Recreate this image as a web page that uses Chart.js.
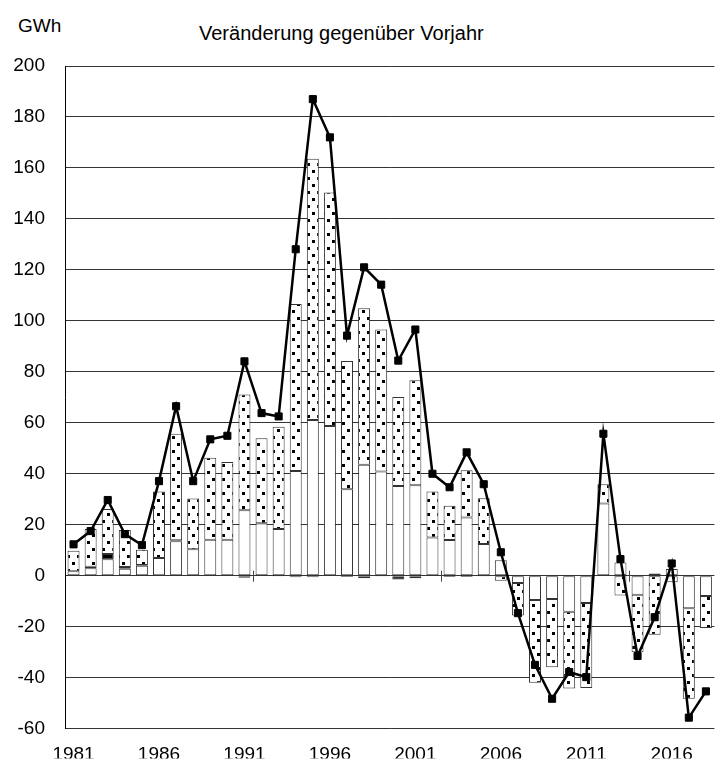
<!DOCTYPE html>
<html lang="de">
<head>
<meta charset="utf-8">
<title>Veränderung gegenüber Vorjahr</title>
<script src="https://cdn.jsdelivr.net/npm/chart.js@4.4.0/dist/chart.umd.min.js"></script>
<style>
    html, body { margin: 0; padding: 0; background: #fff; overflow: hidden; }
    body { position: relative; width: 720px; height: 760px; font-family: "Liberation Sans", Arial, sans-serif; }
    .text { position: absolute; font-size: 19px; line-height: 19px; color: #000; white-space: nowrap; }
    #einheit { left: 18px; top: 16px; }
    #titel { left: 199px; top: 23px; font-size: 20px; line-height: 20px; }
    #diagramm { position: absolute; left: 0; top: 0; }
</style>
</head>
<body>
<div class="text" id="einheit">GWh</div>
<div class="text" id="titel">Veränderung gegenüber Vorjahr</div>
<canvas id="diagramm" width="721" height="760"></canvas>

<script>
    // Jahre 1981 bis 2018
    const jahre = [
        '1981', '1982', '1983', '1984', '1985', '1986', '1987', '1988', '1989', '1990',
        '1991', '1992', '1993', '1994', '1995', '1996', '1997', '1998', '1999', '2000',
        '2001', '2002', '2003', '2004', '2005', '2006', '2007', '2008', '2009', '2010',
        '2011', '2012', '2013', '2014', '2015', '2016', '2017', '2018'
    ];

    // weisser Balkenteil (GWh)
    const anteilWeiss = [
        1.7, 2.9, 6.5, 2.7, 3.9, 6.9, 13.5, 10.4, 14.1, 14.1,
        25.7, 20.6, 18.3, 41.1, 61.1, 58.7, 33.9, 43.5, 40.9, 35.2,
        35.5, 15.0, 14.0, 22.8, 12.4, 6.1, -2.9, -9.5, -9.1, -14.1,
        -10.7, 28.3, 5.2, -7.5, 0.9, 2.6, -12.8, -8.0
    ];

    // schwarzer Balkenteil (GWh)
    const anteilSchwarz = [
        0, 0.6, 2.0, 0.7, 0.3, 0, 0.4, 0, 0, 0,
        -0.8, 0, -0.3, -0.6, -0.6, 0, -0.5, -1.0, -0.3, -1.5,
        -1.0, 0, -0.5, -0.5, -0.3, 0, 0, 0, 0, 0,
        0, 0, 0, 0, 0, 0, 0, 0
    ];

    // gepunkteter Balkenteil (GWh)
    const anteilPunkte = [
        8.1, 14.8, 17.7, 14.5, 6.0, 26.1, 41.8, 19.9, 32.2, 30.5,
        45.4, 33.3, 40.1, 65.5, 102.5, 91.7, 50.3, 61.4, 55.7, 34.9,
        41.2, 18.0, 13.4, 18.6, 18.0, -2.0, -12.7, -32.5, -26.8, -30.2,
        -33.4, 7.6, -7.8, -22.5, -23.2, -2.6, -35.5, -12.5
    ];

    // Gesamtveränderung (Linie)
    const gesamt = [
        12.3, 17.5, 29.7, 16.3, 12.0, 37.1, 66.5, 37.1, 53.5, 54.9,
        84.1, 63.8, 62.5, 128.1, 187.0, 172.0, 94.2, 121.0, 114.2, 84.4,
        96.6, 40.0, 34.7, 48.4, 35.9, 9.2, -14.7, -35.0, -48.3, -37.8,
        -39.8, 55.7, 6.5, -31.5, -16.3, 4.8, -55.7, -45.4
    ];

    // Skala der y-Achse
    const yMin = -60;
    const yMax = 200;
    const ySchritt = 20;

    document.addEventListener('DOMContentLoaded', function() {
        const canvas = document.getElementById('diagramm');
        const ctx = canvas.getContext('2d');

        // Punktraster fuer die gepunkteten Balken
        const kachel = document.createElement('canvas');
        kachel.width = 10;
        kachel.height = 14;
        const k = kachel.getContext('2d');
        k.fillStyle = '#fff';
        k.fillRect(0, 0, 10, 14);
        k.fillStyle = '#000';
        k.fillRect(2, 2, 3, 3);
        k.fillRect(7, 9, 3, 3);
        const punktMuster = ctx.createPattern(kachel, 'repeat');

        const schrift = { family: '"Liberation Sans", Arial, sans-serif', size: 19 };

        const balken = {
            type: 'bar',
            stack: 'teile',
            borderColor: '#333',
            borderWidth: 1,
            borderSkipped: false,
            barPercentage: 0.7,
            categoryPercentage: 1,
            order: 1
        };

        // kleine Teilstriche der Rubrikenachse auf der Nulllinie
        const nullStriche = {
            id: 'nullStriche',
            afterDatasetsDraw: function(chart) {
                const x = chart.scales.x;
                const y0 = chart.scales.y.getPixelForValue(0);
                const c = chart.ctx;
                c.save();
                c.strokeStyle = '#444';
                c.lineWidth = 1;
                [10, 21, 32].forEach(i => {
                    const px = Math.round((x.getPixelForValue(i) + x.getPixelForValue(i + 1)) / 2) + 0.5;
                    c.beginPath();
                    c.moveTo(px, y0 - 5);
                    c.lineTo(px, y0 + 6);
                    c.stroke();
                });
                c.restore();
            }
        };

        new Chart(ctx, {
            data: {
                labels: jahre,
                datasets: [
                    {
                        type: 'line',
                        stack: 'summe',
                        data: gesamt,
                        borderColor: '#000',
                        borderWidth: 2.5,
                        tension: 0,
                        pointStyle: 'rect',
                        pointRadius: 5,
                        pointBorderWidth: 1,
                        pointBackgroundColor: '#000',
                        pointBorderColor: '#000',
                        order: 0
                    },
                    Object.assign({ data: anteilWeiss, backgroundColor: '#fff' }, balken),
                    Object.assign({ data: anteilSchwarz, backgroundColor: '#000', borderColor: '#000' }, balken),
                    Object.assign({ data: anteilPunkte, backgroundColor: punktMuster }, balken)
                ]
            },
            options: {
                responsive: false,
                animation: false,
                layout: { padding: { top: 66, left: 0, right: 0, bottom: 0 } },
                plugins: {
                    legend: { display: false },
                    tooltip: { enabled: false }
                },
                scales: {
                    x: {
                        stacked: true,
                        grid: { display: false, drawTicks: false },
                        border: { display: false },
                        ticks: {
                            autoSkip: false,
                            maxRotation: 0,
                            padding: 15,
                            color: '#000',
                            font: schrift,
                            callback: function(value, index) {
                                return index % 5 === 0 ? jahre[index] : '';
                            }
                        },
                        afterFit: function(scale) { scale.height = 30; }
                    },
                    y: {
                        stacked: true,
                        min: yMin,
                        max: yMax,
                        grid: { color: '#333', drawTicks: false },
                        border: { display: true, color: '#000' },
                        ticks: {
                            stepSize: ySchritt,
                            padding: 20,
                            color: '#000',
                            font: schrift
                        },
                        afterFit: function(scale) { scale.width = 65; }
                    }
                }
            },
            plugins: [nullStriche]
        });
    });
</script>
</body>
</html>
